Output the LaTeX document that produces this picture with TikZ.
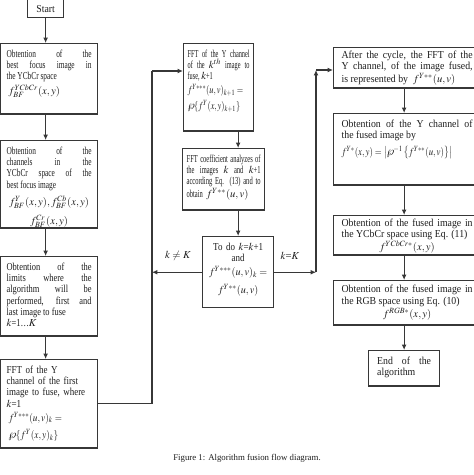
\documentclass[tikz,border=0pt]{standalone}
\usepackage{mathptmx}
\usepackage{graphicx}
\usepackage{fontspec}
\setmainfont{Liberation Serif}
\newfontfamily\sqa[FakeStretch=0.59]{Liberation Serif}
\newfontfamily\sqb[FakeStretch=0.61]{Liberation Serif}
\newfontfamily\sqc[FakeStretch=0.69]{Liberation Serif}
\newfontfamily\sqd[FakeStretch=0.79]{Liberation Serif}
\newfontfamily\sqe[FakeStretch=0.84]{Liberation Serif}
\newfontfamily\sqf[FakeStretch=0.92]{Liberation Serif}
\newcommand\fm[2][0.87]{\scalebox{#1}[1]{$#2$}}
\usetikzlibrary{arrows.meta}
\definecolor{linec}{RGB}{55,55,55}
\definecolor{txtc}{RGB}{30,30,30}

\tikzset{every picture/.style={line width=0.75pt}}
\tikzset{
  flowbox/.style={draw=linec, line width=0.95pt, anchor=north west, inner xsep=3pt, inner ysep=4.5pt,
    align=justify, text=txtc, execute at begin node=\setlength{\parindent}{0pt}},
  leftbox/.style={flowbox, inner xsep=4.5pt, text width=63.75pt, minimum width=72.75pt},
  midbox/.style={flowbox, inner xsep=3pt},
  rightbox/.style={flowbox, fsf, inner xsep=6pt, text width=98.25pt, minimum width=110.25pt},
  flowline/.style={draw=linec, line width=0.8pt},
  flowarrow/.style={flowline, -{Latex[length=4pt,width=3.6pt]}},
  fsa/.style={font=\sqa\fontsize{8}{8.5}\selectfont},
  fsb/.style={font=\sqb\fontsize{8}{8.5}\selectfont},
  fsc/.style={font=\sqc\fontsize{8}{8.5}\selectfont},
  fsd/.style={font=\sqd\fontsize{8}{8.5}\selectfont},
  fse/.style={font=\sqe\fontsize{8}{8.5}\selectfont},
  fsf/.style={font=\sqf\fontsize{8}{8.5}\selectfont},
  lab/.style={text=txtc, font=\fontsize{8}{8.5}\selectfont}
}

\begin{document}
\begin{tikzpicture}[x=0.75pt,y=0.75pt,yscale=-1,xscale=1]
\useasboundingbox (0,0) rectangle (474,475);
\fill[white] (0,0) rectangle (474,475);
\clip (0,0) rectangle (474,475);

%Start
\node[flowbox, fsf, align=center, inner sep=0pt, minimum width=27pt, minimum height=13.5pt] (start) at (27,-1) {Start};

%Left column
\node[leftbox, fsc, text depth=38.1pt] (focus) at (0,43) {Obtention of the\linebreak best focus image in\linebreak the YCbCr space\\[1.5pt] \hspace*{1.5pt}$f_{BF}^{YCbCr}(x,y)$};
\node[leftbox, fsc, text depth=50.85pt] (chan) at (0,140) {Obtention of the\linebreak channels in the\linebreak YCbCr space of the\linebreak best focus image\par\vspace{3.5pt}\centerline{$f_{BF}^{Y}(x,y), f_{BF}^{Cb}(x,y)$}\par\vspace{3.5pt}\centerline{$f_{BF}^{Cr}(x,y)$}};
\node[leftbox, fsd, text depth=44.85pt] (limits) at (0,256) {Obtention of the\linebreak limits where the\linebreak algorithm will be\linebreak performed, first and\linebreak last image to fuse\\ $k$=1\ldots$K$};
\node[leftbox, fse, align=left, text depth=51.6pt] (fftfirst) at (0,359) {FFT of the Y\\ channel of the first\\ image to fuse, where\\ $k$=1\\[2pt] \hspace*{1.5pt}\fm{f^{Y***}(u,v)_k =}\\[3pt] \hspace*{1.5pt}\fm{\wp\{f^{Y}(x,y)_k\}}};

%Middle column
\node[midbox, fsa, text width=46.5pt, minimum width=52.5pt, text depth=50.85pt] (fftnext) at (183,43) {FFT of the Y channel\linebreak of the $k^{th}$ image to\linebreak fuse, $k$+1\\[2pt] \fm[0.78]{f^{Y***}(u,v)_{k+1}=}\\[2pt] \fm[0.78]{\wp\{f^{Y}(x,y)_{k+1}\}}};
\node[midbox, fsb, text width=55.5pt, minimum width=61.5pt, text depth=31.35pt] (coef) at (182,148) {FFT coefficient analyzes of\linebreak the images $k$ and $k$+1\linebreak according Eq. (13) and to\linebreak obtain~ $f^{Y**}(u,v)$};
\node[midbox, fse, align=center, text width=47.25pt, minimum width=53.25pt, text depth=38.85pt] (todo) at (202,236) {To do $k$=$k$+1\\ and\\[2pt] \fm[0.95]{f^{Y***}(u,v)_k =}\\[4pt] \fm[0.95]{f^{Y**}(u,v)}};

%Right column
\node[rightbox, inner ysep=2.5pt, text depth=19.6pt] (after) at (333,47) {After the cycle, the FFT of the\linebreak Y channel, of the image fused,\linebreak is represented by~ $f^{Y**}(u,v)$};
\node[rightbox, text depth=38.85pt] (ychan) at (333,113) {Obtention of the Y channel of\linebreak the fused image by\\[3pt] \fm[0.83]{f^{Y*}(x,y)=\left|\wp^{-1}\left\{f^{Y**}(u,v)\right\}\right|}};
\node[rightbox, inner ysep=2.5pt, text depth=18.85pt] (ycbcr) at (333,215) {Obtention of the fused image in\linebreak the YCbCr space using Eq. (11)\par\centerline{$f^{YCbCr*}(x,y)$}};
\node[rightbox, inner ysep=3.5pt, text depth=20.6pt] (rgb) at (333,280) {Obtention of the fused image in\linebreak the RGB space using Eq. (10)\par\centerline{$f^{RGB*}(x,y)$}};
\node[flowbox, fsf, inner xsep=6.4pt, text width=40.45pt, minimum width=53.25pt, text depth=11.85pt] (finish) at (368,350) {End of the\linebreak algorithm};

%Loop corners
\coordinate (loopL) at (152,71);
\coordinate (loopR) at (316,70);

%Straight Lines
\draw[flowarrow] (start.south) -- (start.south |- focus.north);
\draw[flowarrow] (focus.south -| start) -- (chan.north -| start);
\draw[flowarrow] (chan.south -| start) -- (limits.north -| start);
\draw[flowarrow] (limits.south -| start) -- (fftfirst.north -| start);
\draw[flowline] (fftfirst.east) -| (loopL);
\draw[flowarrow] (loopL) -- (loopL -| fftnext.west);
\draw[flowarrow] (fftnext.south -| todo.north) -- (coef.north -| todo.north);
\draw[flowarrow] (coef.south -| todo.north) -- (todo.north);
\draw[flowarrow] (todo.west) -- (todo.west -| loopL);
\draw[flowarrow] (todo.east) -- (todo.east -| loopR);
\draw[flowarrow] (todo.east -| loopR) -- (loopR);
\draw[flowarrow] (loopR) -- (loopR -| after.west);
\draw[flowarrow] (after.south -| finish.north) -- (ychan.north -| finish.north);
\draw[flowarrow] (ychan.south -| finish.north) -- (ycbcr.north -| finish.north);
\draw[flowarrow] (ycbcr.south -| finish.north) -- (rgb.north -| finish.north);
\draw[flowarrow] (rgb.south -| finish.north) -- (finish.north);

% Text Node
\node[lab] (neqK) at (178,256) {$k\neq K$};
% Text Node
\node[lab] (eqK) at (290,256) {$k$=$K$};
% Text Node
\node[text=txtc, font=\fontsize{6.6}{8}\selectfont] (caption) at (247,458) {Figure 1: Algorithm fusion flow diagram.};

\end{tikzpicture}
\end{document}
